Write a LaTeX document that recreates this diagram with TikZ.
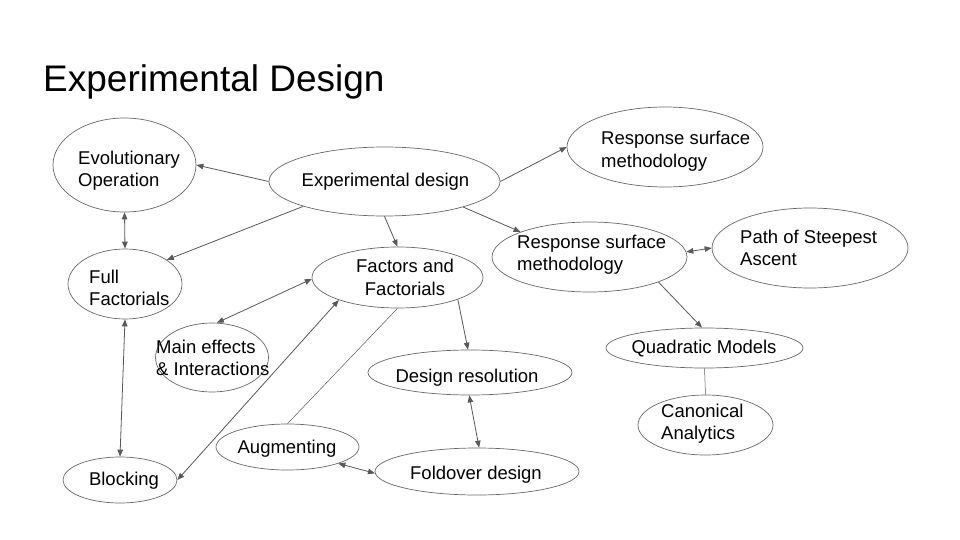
\documentclass[tikz,border=0pt]{standalone}
\usepackage{fontspec}
\setmainfont{Liberation Sans}
\usetikzlibrary{shapes.geometric,arrows.meta}
\definecolor{edgec}{RGB}{89,89,89}
\definecolor{ringc}{RGB}{105,105,105}
\begin{document}
\begin{tikzpicture}[x=1pt,y=-1pt,
  ell/.style={draw=ringc, line width=0.7pt, ellipse, inner sep=0pt},
  lbl/.style={anchor=base west, inner sep=0pt, font=\fontsize{18.5}{22.5}\selectfont, align=left, text=black},
  arr/.style={draw=edgec, line width=0.8pt, -{Triangle[length=7pt,width=5.5pt]}},
  darr/.style={draw=edgec, line width=0.8pt, {Triangle[length=7pt,width=5.5pt]}-{Triangle[length=7pt,width=5.5pt]}},
  plainline/.style={draw=edgec, line width=0.5pt}]
\path[use as bounding box, fill=white] (0,0) rectangle (960,540);

\node[anchor=base west, inner sep=0pt, font=\fontsize{37}{44}\selectfont] (title) at (43,92) {Experimental Design};

% ellipses
\node[ell, minimum width=143pt, minimum height=94pt] (evo) at (124.5,165) {};
\node[ell, minimum width=231pt, minimum height=69pt] (ed) at (384.5,181.5) {};
\node[ell, minimum width=196pt, minimum height=80pt] (rst) at (665,147) {};
\node[ell, minimum width=114pt, minimum height=70pt] (ff) at (125,284) {};
\node[ell, minimum width=171pt, minimum height=61pt] (fac) at (397.5,277.5) {};
\node[ell, minimum width=195pt, minimum height=70pt] (rsm) at (589.5,257) {};
\node[ell, minimum width=196pt, minimum height=80pt] (path) at (810,248) {};
\node[ell, minimum width=197pt, minimum height=40pt] (quad) at (704.5,348) {};
\node[ell, minimum width=135pt, minimum height=60pt] (can) at (705.5,425) {};
\node[ell, minimum width=113pt, minimum height=69pt] (me) at (212,357.5) {};
\node[ell, minimum width=204pt, minimum height=45pt] (dr) at (470,372.5) {};
\node[ell, minimum width=204pt, minimum height=47pt] (fold) at (477,471.5) {};
\node[ell, minimum width=143pt, minimum height=46pt] (aug) at (287.5,447) {};
\node[ell, minimum width=114pt, minimum height=46pt] (blk) at (120,480) {};

% texts (two-line nodes are placed by the baseline of their last line)
\node[lbl] (tevo) at (78,186.5) {Evolutionary\\Operation};
\node[lbl] (ted) at (301.5,186) {Experimental design};
\node[lbl] (trst) at (601,167.5) {Response surface\\methodology};
\node[lbl] (tff) at (89,305.5) {Full\\Factorials};
\node[lbl, align=center, anchor=base] (tfac) at (405,295) {Factors and\\Factorials};
\node[lbl] (trsm) at (517,270.5) {Response surface\\methodology};
\node[lbl] (tpath) at (740,265.5) {Path of Steepest\\Ascent};
\node[lbl, anchor=base] (tquad) at (704,353) {Quadratic Models};
\node[lbl] (tcan) at (661,439.5) {Canonical\\Analytics};
\node[lbl] (tme) at (156,375.5) {Main effects\\\& Interactions};
\node[lbl, anchor=base] (tdr) at (467,382) {Design resolution};
\node[lbl, anchor=base] (tfold) at (476,479) {Foldover design};
\node[lbl, anchor=base] (taug) at (287,453) {Augmenting};
\node[lbl, anchor=base] (tblk) at (124,485) {Blocking};

% connectors
\draw[arr] (ed.west) -- (evo.east);
\draw[arr] (ed.197) -- (ff.30);
\draw[arr] (ed.south) -- (fac.north);
\draw[arr] (ed.-18) -- (rsm.160);
\draw[arr] (ed.east) -- (rst.west);
\draw[darr] (evo.south) -- (ff.north);
\draw[darr] (ff.south) -- (blk.north);
\draw[darr] (fac.181) -- (me.82);
\draw[darr] (fac.201) -- (blk.east);
\draw[plainline] (fac.south) -- (aug.north);
\draw[arr] (fac.-20) -- (dr.95);
\draw[darr] (dr.268) -- (fold.85);
\draw[darr] (aug.-18) -- (fold.181);
\draw[darr] (rsm.3) -- (path.west);
\draw[arr] (rsm.-20) -- (quad.97);
\draw[plainline] (quad.south) -- (can.north);
\end{tikzpicture}
\end{document}
